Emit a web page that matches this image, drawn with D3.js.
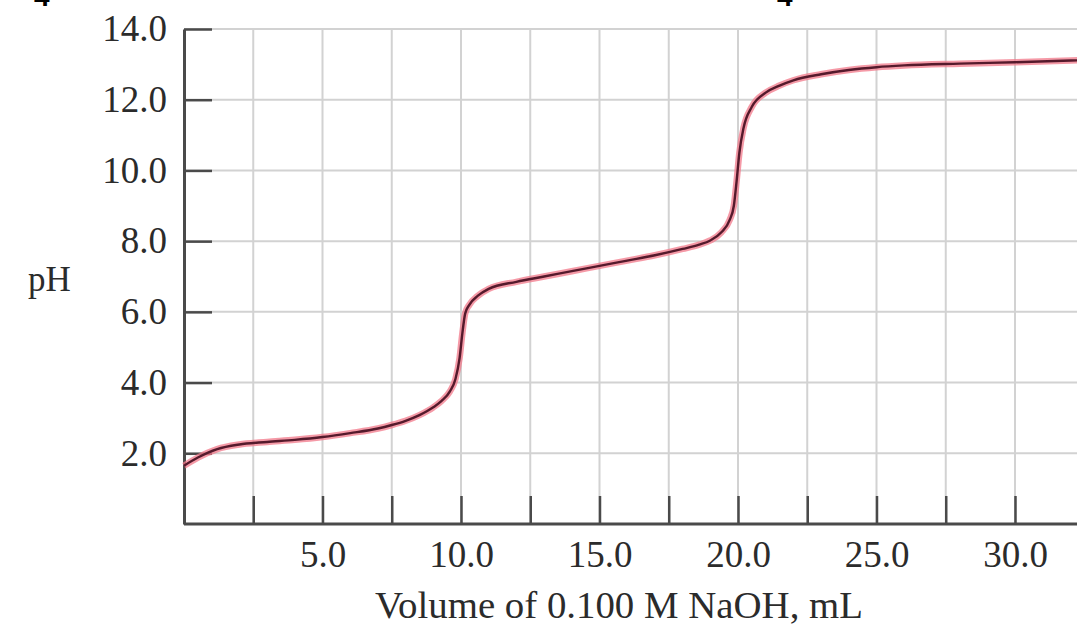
<!DOCTYPE html>
<html>
<head>
<meta charset="utf-8">
<script src="https://cdnjs.cloudflare.com/ajax/libs/d3/7.8.5/d3.min.js"></script>
<style>
  body { margin: 0; background: #fff; }
  svg { display: block; }
  .tick text { font-family: "Liberation Serif", "DejaVu Serif", serif; fill: #2b2b2b; }
</style>
</head>
<body>
<div id="chart"></div>
<script>
// titration curve
var volume = [0, 0.5, 1.2, 2.0, 3.0, 4.0, 5.0, 6.0, 7.0, 7.5, 8.0, 8.5, 9.0, 9.3, 9.6, 9.8,
  9.95, 10.05, 10.15, 10.3, 10.6, 11.0, 12.0, 13.0, 14.0, 15.0, 16.0, 17.0, 18.0, 18.6, 19.0,
  19.4, 19.7, 19.85, 19.95, 20.05, 20.2, 20.5, 21.0, 21.5, 22.0, 23.0, 24.0, 25.0, 26.0, 28.0,
  30.0, 32.5];
var pH = [1.65, 1.88, 2.12, 2.25, 2.32, 2.38, 2.46, 2.57, 2.70, 2.80, 2.92, 3.08, 3.30, 3.48, 3.75, 4.10,
  4.70, 5.40, 5.95, 6.20, 6.45, 6.65, 6.85, 7.00, 7.15, 7.30, 7.45, 7.60, 7.78, 7.90, 8.02,
  8.25, 8.60, 9.00, 9.70, 10.50, 11.20, 11.80, 12.20, 12.40, 12.55, 12.72, 12.84, 12.92, 12.97, 13.02,
  13.06, 13.12];

var xTicks = [2.5, 5, 7.5, 10, 12.5, 15, 17.5, 20, 22.5, 25, 27.5, 30, 32.5];
var xLabels = [5, 10, 15, 20, 25, 30];
var yTicks = [2, 4, 6, 8, 10, 12, 14];

var W = 1077, H = 627;
var margin = { top: 29, right: 0, bottom: 103, left: 184 };

var svg = d3.select("#chart").append("svg")
  .attr("width", W)
  .attr("height", H);

// ranges (px per mL ~27.7, px per pH unit ~35.4)
var x = d3.scaleLinear().domain([0, 32.5]).range([margin.left, margin.left + 32.5 * 27.7]);
var y = d3.scaleLinear().domain([0, 14]).range([H - margin.bottom, margin.top]);

// cut-off glyphs at the top edge of the picture (they are cut in the original too)
svg.append("text").attr("x", 34).attr("y", 6)
  .style("font-family", "Liberation Sans, Arial, sans-serif").style("font-weight", "bold")
  .style("font-size", "28px").text("4");
svg.append("text").attr("x", 777).attr("y", 6)
  .style("font-family", "Liberation Sans, Arial, sans-serif").style("font-weight", "bold")
  .style("font-size", "28px").text("4");

// grid
var grid = svg.append("g").attr("stroke", "#d2d2d2").attr("stroke-width", 2);
grid.selectAll(".vgrid")
  .data(xTicks)
  .enter().append("line")
    .attr("x1", function (d) { return x(d); })
    .attr("x2", function (d) { return x(d); })
    .attr("y1", y(14))
    .attr("y2", y(0));
grid.selectAll(".hgrid")
  .data(yTicks)
  .enter().append("line")
    .attr("x1", x(0))
    .attr("x2", W)
    .attr("y1", function (d) { return y(d); })
    .attr("y2", function (d) { return y(d); });

// x axis, ticks point inward
var xAxis = svg.append("g")
  .attr("transform", "translate(0," + y(0) + ")")
  .call(d3.axisBottom(x)
    .tickValues(xTicks)
    .tickSizeInner(-28)
    .tickSizeOuter(0)
    .tickPadding(17)
    .tickFormat(function (d) { return xLabels.indexOf(d) >= 0 ? d.toFixed(1) : ""; }));

// y axis
var yAxis = svg.append("g")
  .attr("transform", "translate(" + x(0) + ",0)")
  .call(d3.axisLeft(y)
    .tickValues(yTicks)
    .tickSizeInner(-28)
    .tickSizeOuter(0)
    .tickPadding(17)
    .tickFormat(function (d) { return d.toFixed(1); }));

[xAxis, yAxis].forEach(function (a) {
  a.select(".domain").attr("stroke", "#4a4a4a").attr("stroke-width", 3);
  a.selectAll(".tick line").attr("stroke", "#4a4a4a").attr("stroke-width", 2.5);
  a.selectAll(".tick text").style("font-size", "37px");
});
// run the x axis line to the right edge
xAxis.select(".domain").attr("d", "M" + x(0) + ",0H" + W);

// curve: pink halo under a dark line
var pts = volume.map(function (v, i) { return [v, pH[i]]; });
var line = d3.line()
  .x(function (d) { return x(d[0]); })
  .y(function (d) { return y(d[1]); })
  .curve(d3.curveMonotoneX);

svg.append("path").datum(pts)
  .attr("fill", "none").attr("stroke", "#f2788a").attr("stroke-width", 6.5).attr("opacity", 0.75)
  .attr("d", line);
svg.append("path").datum(pts)
  .attr("fill", "none").attr("stroke", "#551a2c").attr("stroke-width", 2.4)
  .attr("d", line);

// axis titles
svg.append("text")
  .attr("x", 28).attr("y", 291)
  .style("font-family", "Liberation Serif, serif").style("font-size", "35px").style("fill", "#2b2b2b")
  .text("pH");

svg.append("text")
  .attr("x", 619).attr("y", 618)
  .attr("text-anchor", "middle")
  .attr("textLength", 488)
  .attr("lengthAdjust", "spacingAndGlyphs")
  .style("font-family", "Liberation Serif, serif").style("font-size", "37px").style("fill", "#2b2b2b")
  .text("Volume of 0.100 M NaOH, mL");
</script>
</body>
</html>
